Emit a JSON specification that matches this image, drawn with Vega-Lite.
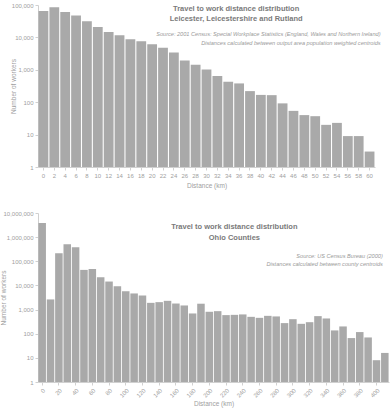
{
  "$schema": "https://vega.github.io/schema/vega-lite/v6.json",
  "padding": {"left": 0, "top": 2, "right": 5, "bottom": 3},
  "background": "white",
  "config": {
    "font": "Liberation Sans",
    "view": {"stroke": null},
    "axis": {
      "domainColor": "#d0d0d0",
      "tickColor": "#d0d0d0",
      "tickSize": 3,
      "labelColor": "#a0a0a0",
      "labelFontSize": 6,
      "labelPadding": 2,
      "titleColor": "#a0a0a0",
      "titleFontSize": 6.5,
      "titleFontWeight": "normal",
      "grid": false
    },
    "concat": {"spacing": 21}
  },
  "datasets": {
    "leicester": [
      {"km": 0, "workers": 65000}, {"km": 2, "workers": 85000}, {"km": 4, "workers": 61000},
      {"km": 6, "workers": 47000}, {"km": 8, "workers": 31500}, {"km": 10, "workers": 21000},
      {"km": 12, "workers": 14700}, {"km": 14, "workers": 11600}, {"km": 16, "workers": 8700},
      {"km": 18, "workers": 7600}, {"km": 20, "workers": 6200}, {"km": 22, "workers": 4800},
      {"km": 24, "workers": 3400}, {"km": 26, "workers": 1950}, {"km": 28, "workers": 1430},
      {"km": 30, "workers": 1030}, {"km": 32, "workers": 640}, {"km": 34, "workers": 425},
      {"km": 36, "workers": 380}, {"km": 38, "workers": 220}, {"km": 40, "workers": 168},
      {"km": 42, "workers": 165}, {"km": 44, "workers": 92}, {"km": 46, "workers": 54},
      {"km": 48, "workers": 40}, {"km": 50, "workers": 37}, {"km": 52, "workers": 20},
      {"km": 54, "workers": 23}, {"km": 56, "workers": 9}, {"km": 58, "workers": 9},
      {"km": 60, "workers": 3}
    ],
    "ohio": [
      {"km": 0, "workers": 3850000}, {"km": 10, "workers": 2630}, {"km": 20, "workers": 215000},
      {"km": 30, "workers": 505000}, {"km": 40, "workers": 380000}, {"km": 50, "workers": 44000},
      {"km": 60, "workers": 48000}, {"km": 70, "workers": 22000}, {"km": 80, "workers": 14500},
      {"km": 90, "workers": 9300}, {"km": 100, "workers": 5800}, {"km": 110, "workers": 4650},
      {"km": 120, "workers": 3840}, {"km": 130, "workers": 1900}, {"km": 140, "workers": 2030},
      {"km": 150, "workers": 2300}, {"km": 160, "workers": 1780}, {"km": 170, "workers": 1480},
      {"km": 180, "workers": 690}, {"km": 190, "workers": 1750}, {"km": 200, "workers": 810},
      {"km": 210, "workers": 860}, {"km": 220, "workers": 590}, {"km": 230, "workers": 605},
      {"km": 240, "workers": 630}, {"km": 250, "workers": 500}, {"km": 260, "workers": 455},
      {"km": 270, "workers": 550}, {"km": 280, "workers": 520}, {"km": 290, "workers": 275},
      {"km": 300, "workers": 400}, {"km": 310, "workers": 257}, {"km": 320, "workers": 300},
      {"km": 330, "workers": 535}, {"km": 340, "workers": 428}, {"km": 350, "workers": 137},
      {"km": 360, "workers": 200}, {"km": 370, "workers": 66}, {"km": 380, "workers": 117},
      {"km": 390, "workers": 70}, {"km": 400, "workers": 8}, {"km": 410, "workers": 16}
    ]
  },
  "vconcat": [
    {
      "width": 337,
      "height": 162,
      "layer": [
        {
          "data": {"name": "leicester"},
          "mark": {"type": "bar", "color": "#a9a9a9"},
          "encoding": {
            "x": {
              "field": "km", "type": "ordinal", "title": "Distance (km)",
              "scale": {"paddingInner": 0.1, "paddingOuter": 0.05},
              "axis": {"labelAngle": 0, "titlePadding": 4}
            },
            "y": {
              "field": "workers", "type": "quantitative", "title": "Number of workers", "stack": null,
              "scale": {"type": "log", "domain": [1, 100000]},
              "axis": {"values": [1, 10, 100, 1000, 10000, 100000], "format": ",", "titlePadding": -5}
            }
          }
        },
        {
          "data": {"values": [{}]},
          "mark": {"type": "text", "align": "center", "baseline": "middle", "fontWeight": "bold", "fontSize": 7.5, "color": "#7a7a7a", "lineHeight": 10, "dx": -3},
          "encoding": {
            "x": {"datum": 36, "type": "ordinal"},
            "y": {"datum": 75200, "type": "quantitative"},
            "text": {"value": ["Travel to work distance distribution", "Leicester, Leicestershire and Rutland"]}
          }
        },
        {
          "data": {"values": [{}]},
          "mark": {"type": "text", "align": "right", "baseline": "middle", "fontStyle": "italic", "fontSize": 5.6, "color": "#9a9a9a", "lineHeight": 8.7, "dx": 11},
          "encoding": {
            "x": {"datum": 60, "type": "ordinal"},
            "y": {"datum": 12800, "type": "quantitative"},
            "text": {"value": ["Source: 2001 Census: Special Workplace Statistics (England, Wales and Northern Ireland)", "Distances calculated between output area population weighted centroids"]}
          }
        }
      ]
    },
    {
      "width": 351,
      "height": 169,
      "layer": [
        {
          "data": {"name": "ohio"},
          "mark": {"type": "bar", "color": "#a9a9a9"},
          "encoding": {
            "x": {
              "field": "km", "type": "ordinal", "title": "Distance (km)",
              "scale": {"paddingInner": 0.1, "paddingOuter": 0.05},
              "axis": {"labelAngle": -45, "values": [0, 20, 40, 60, 80, 100, 120, 140, 160, 180, 200, 220, 240, 260, 280, 300, 320, 340, 360, 380, 400], "titlePadding": 2}
            },
            "y": {
              "field": "workers", "type": "quantitative", "title": "Number of workers", "stack": null,
              "scale": {"type": "log", "domain": [1, 10000000]},
              "axis": {"values": [1, 10, 100, 1000, 10000, 100000, 1000000, 10000000], "format": ",", "titlePadding": -4}
            }
          }
        },
        {
          "data": {"values": [{}]},
          "mark": {"type": "text", "align": "center", "baseline": "middle", "fontWeight": "bold", "fontSize": 7.5, "color": "#7a7a7a", "lineHeight": 11},
          "encoding": {
            "x": {"datum": 230, "type": "ordinal"},
            "y": {"datum": 2640000, "type": "quantitative"},
            "text": {"value": ["Travel to work distance distribution", "Ohio Counties"]}
          }
        },
        {
          "data": {"values": [{}]},
          "mark": {"type": "text", "align": "right", "baseline": "middle", "fontStyle": "italic", "fontSize": 5.6, "color": "#9a9a9a", "lineHeight": 8.3, "dx": -2},
          "encoding": {
            "x": {"datum": 410, "type": "ordinal"},
            "y": {"datum": 166700, "type": "quantitative"},
            "text": {"value": ["Source: US Census Bureau (2000)", "Distances calculated between county centroids"]}
          }
        }
      ]
    }
  ]
}
